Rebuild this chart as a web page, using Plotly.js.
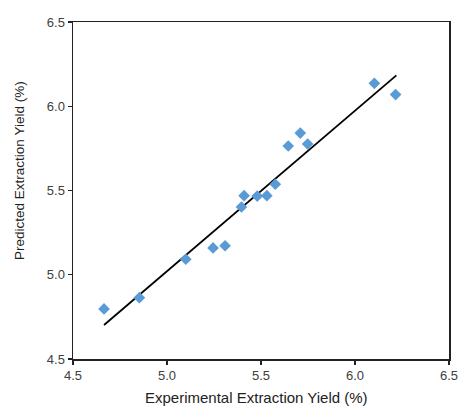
<!DOCTYPE html>
<html>
<head>
<meta charset="utf-8">
<script src="https://cdn.plot.ly/plotly-3.0.1.min.js"></script>
<style>html,body{margin:0;padding:0;background:#fff;}#chart{width:458px;height:408px;}</style>
</head>
<body>
<div id="chart"></div>
<script>
const experimental = [4.665, 4.853, 5.100, 5.245, 5.309, 5.396, 5.410, 5.480, 5.531, 5.576, 5.645, 5.709, 5.748, 6.103, 6.216];
const predicted    = [4.797, 4.864, 5.092, 5.159, 5.172, 5.402, 5.469, 5.467, 5.469, 5.537, 5.764, 5.841, 5.776, 6.136, 6.069];
const fitX = [4.665, 6.220];
const fitY = [4.702, 6.183];
const tickVals = [4.5, 5.0, 5.5, 6.0, 6.5];
const tickText = ["4.5", "5.0", "5.5", "6.0", "6.5"];
const xTitle = 'Experimental Extraction Yield (%)';
const yTitle = 'Predicted Extraction Yield (%)';

const traces = [
  {x: fitX, y: fitY, type: 'scatter', mode: 'lines', line: {color: '#000000', width: 1.8}, hoverinfo: 'skip'},
  {x: experimental, y: predicted, type: 'scatter', mode: 'markers',
   marker: {symbol: 'diamond', size: 9, color: '#5B9BD5'}}
];

const font = 'Liberation Sans, Arial, sans-serif';
const axisCommon = {
  tickmode: 'array', tickvals: tickVals, ticktext: tickText,
  showgrid: false, zeroline: false,
  showline: true, linecolor: '#222', linewidth: 1.5, mirror: true,
  ticks: 'outside', ticklen: 4, tickwidth: 1.2, tickcolor: '#222',
  ticklabeloverflow: 'allow',
  tickfont: {family: font, size: 13, color: '#404040'}
};

const layout = {
  width: 458, height: 408,
  margin: {l: 73, r: 9, t: 22, b: 49},
  paper_bgcolor: '#fff', plot_bgcolor: '#fff',
  showlegend: false,
  xaxis: Object.assign({}, axisCommon, {range: [4.5, 6.5]}),
  yaxis: Object.assign({}, axisCommon, {range: [4.5, 6.5]}),
  annotations: [
    {text: xTitle, xref: 'paper', yref: 'paper', x: 0.487, y: -0.113,
     xanchor: 'center', yanchor: 'middle', showarrow: false,
     font: {family: font, size: 15, color: '#222'}},
    {text: yTitle, xref: 'paper', yref: 'paper', x: -0.141, y: 0.561,
     xanchor: 'center', yanchor: 'middle', showarrow: false, textangle: -90,
     font: {family: font, size: 13.5, color: '#222'}}
  ]
};

Plotly.newPlot('chart', traces, layout, {displayModeBar: false, staticPlot: true});
</script>
</body>
</html>
